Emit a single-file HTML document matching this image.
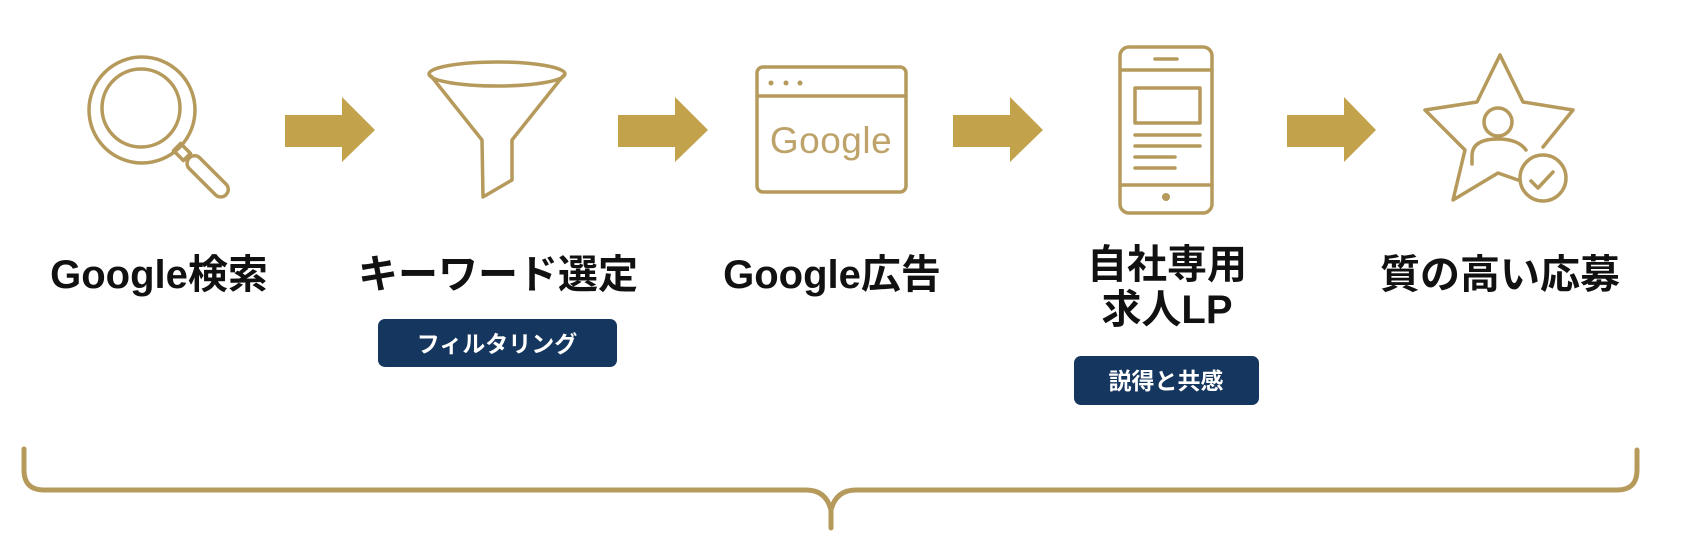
<!DOCTYPE html>
<html><head><meta charset="utf-8"><style>
html,body{margin:0;padding:0;background:#fff;}
svg{display:block;}
.lbl{font-family:"Liberation Sans","Noto Sans CJK JP",sans-serif;font-weight:bold;font-size:40px;fill:#111;}
.tag{font-family:"Liberation Sans","Noto Sans CJK JP",sans-serif;font-weight:bold;font-size:23px;fill:#fff;}
</style></head><body>
<svg width="1684" height="550" viewBox="0 0 1684 550" xmlns="http://www.w3.org/2000/svg">
<g fill="none" stroke="#b59a5c" stroke-width="3.5" stroke-linejoin="round" stroke-linecap="round">
  <!-- magnifier -->
  <circle cx="142" cy="110" r="53"/>
  <circle cx="141" cy="108" r="39"/>
  <rect x="175" y="147" width="14" height="10" transform="rotate(45 182 152)"/>
  <rect x="182" y="169" width="52" height="15" rx="7.5" transform="rotate(45 208 176)"/>
  <!-- funnel -->
  <ellipse cx="497" cy="74" rx="68" ry="12"/>
  <path d="M431,76 L482,140 L483,197 L512,180 L512,140 L563,76"/>
  <!-- browser -->
  <rect x="757" y="67" width="149" height="125" rx="6"/>
  <line x1="757" y1="96" x2="906" y2="96"/>
  <!-- phone -->
  <rect x="1120" y="47" width="92" height="166" rx="9"/>
  <line x1="1120" y1="70" x2="1212" y2="70"/>
  <line x1="1155" y1="59" x2="1177" y2="59"/>
  <rect x="1135" y="88" width="65" height="35"/>
  <line x1="1135" y1="135" x2="1200" y2="135"/>
  <line x1="1135" y1="146" x2="1200" y2="146"/>
  <line x1="1135" y1="157" x2="1175" y2="157"/>
  <line x1="1135" y1="168" x2="1175" y2="168"/>
  <line x1="1120" y1="185" x2="1212" y2="185"/>
  <!-- star -->
  <path d="M1518,180 L1498,173 L1453,200 L1465,150 L1425,110 L1477,102 L1500,55 L1523,102 L1573,110 L1543,147"/>
  <circle cx="1498" cy="122" r="14"/>
  <path d="M1472,164 V156 Q1472,139 1498,139 Q1518,139 1526,150"/>
  <circle cx="1543" cy="178" r="23"/>
  <path d="M1531,181 L1538,188 L1553,172"/>
</g>
<g fill="#b59a5c">
  <circle cx="771" cy="83" r="2.5"/><circle cx="786" cy="83" r="2.5"/><circle cx="800" cy="83" r="2.5"/>
  <circle cx="1166" cy="197" r="4"/>
</g>
<text x="831" y="153" text-anchor="middle" font-family="Liberation Sans, sans-serif" font-size="37" fill="#bda36a" letter-spacing="0.5">Google</text>
<!-- arrows -->
<g fill="#c3a24c">
  <polygon points="285,115 342,115 342,97 375,130 342,162 342,147 285,147"/>
  <polygon points="618,115 675,115 675,97 708,130 675,162 675,147 618,147"/>
  <polygon points="953,115 1010,115 1010,97 1043,130 1010,162 1010,147 953,147"/>
  <polygon points="1287,115 1344,115 1344,97 1376,130 1344,162 1344,147 1287,147"/>
</g>
<!-- labels -->
<text class="lbl" x="159" y="288" text-anchor="middle">Google検索</text>
<text class="lbl" x="498" y="288" text-anchor="middle">キーワード選定</text>
<text class="lbl" x="832" y="288" text-anchor="middle">Google広告</text>
<text class="lbl" x="1167" y="278" text-anchor="middle">自社専用</text>
<text class="lbl" x="1167" y="323" text-anchor="middle">求人LP</text>
<text class="lbl" x="1500" y="288" text-anchor="middle">質の高い応募</text>
<!-- tags -->
<rect x="378" y="319" width="239" height="48" rx="7" fill="#15365e"/>
<text class="tag" x="497" y="352" text-anchor="middle">フィルタリング</text>
<rect x="1074" y="356" width="185" height="49" rx="7" fill="#15365e"/>
<text class="tag" x="1166" y="389" text-anchor="middle">説得と共感</text>
<!-- bracket -->
<path d="M24,449 V470 Q24,490 44,490 H806 Q826,490 831,510 V528 M831,510 Q836,490 856,490 H1617 Q1637,490 1637,470 V450" fill="none" stroke="#b59a5c" stroke-width="5" stroke-linecap="round" stroke-linejoin="round"/>
</svg>
</body></html>
